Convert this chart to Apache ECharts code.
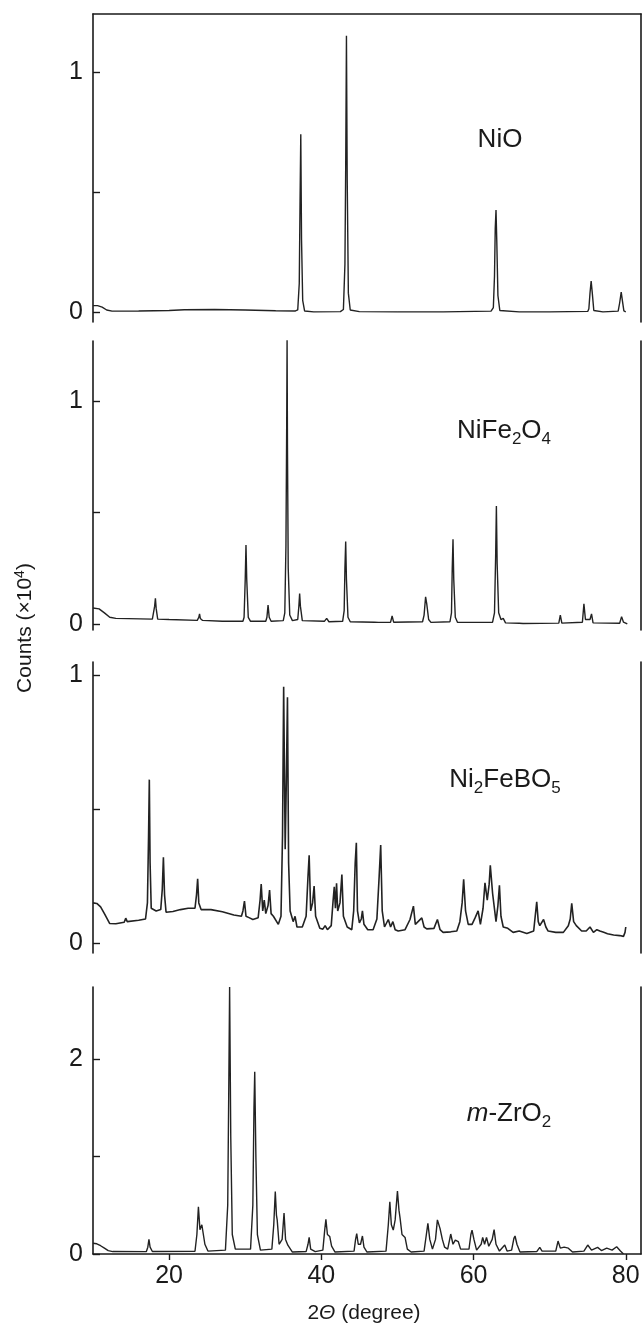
<!DOCTYPE html>
<html>
<head>
<meta charset="utf-8">
<title>XRD patterns</title>
<script src="https://cdn.jsdelivr.net/npm/echarts@6/dist/echarts.min.js"></script>
<style>
    html, body { margin: 0; padding: 0; background: #fff; }
    #xrd_chart { width: 644px; height: 1330px; }
</style>
</head>
<body>
<div id="xrd_chart"></div>
<script>
    // 2theta (degree), counts (x10^4)
    const nioData = [
        [10, 0.028], [10.6, 0.028], [11.2, 0.022], [11.8, 0.01], [12.5, 0.005], [16, 0.006], [20, 0.008],
        [22, 0.011], [26, 0.012], [30, 0.01], [34, 0.007], [36.6, 0.006],
        [36.9, 0.01], [37.1, 0.12], [37.2, 0.45], [37.3, 0.74], [37.4, 0.3], [37.55, 0.05], [37.8, 0.006],
        [39, 0.002], [42.5, 0.003],
        [42.9, 0.012], [43.1, 0.2], [43.2, 0.6], [43.3, 1.15], [43.4, 0.55], [43.55, 0.08], [43.8, 0.01],
        [45, 0.003], [50, 0.002], [56, 0.002], [62.3, 0.005],
        [62.6, 0.02], [62.75, 0.15], [62.85, 0.35], [62.95, 0.425], [63.05, 0.3], [63.2, 0.07], [63.45, 0.008],
        [66, 0.002], [70, 0.002], [75, 0.004],
        [75.15, 0.015], [75.3, 0.08], [75.45, 0.13], [75.6, 0.08], [75.8, 0.008],
        [77, 0.002], [79.0, 0.005],
        [79.2, 0.04], [79.4, 0.084], [79.55, 0.05], [79.75, 0.006], [80.0, 0.002]
    ];

    const nife2o4Data = [
        [10, 0.072], [10.8, 0.068], [11.5, 0.05], [12.2, 0.03], [13, 0.025], [17.8, 0.022],
        [17.95, 0.03], [18.1, 0.08], [18.2, 0.115], [18.3, 0.07], [18.5, 0.022],
        [20, 0.02], [23.7, 0.016], [23.9, 0.03], [24.0, 0.045], [24.1, 0.025], [24.4, 0.016],
        [27, 0.012], [29.7, 0.012],
        [29.85, 0.03], [30.0, 0.2], [30.1, 0.354], [30.2, 0.2], [30.4, 0.03], [30.7, 0.012],
        [32.7, 0.012], [32.85, 0.03], [33.0, 0.085], [33.15, 0.03], [33.4, 0.012],
        [35.0, 0.015], [35.2, 0.05], [35.35, 0.35], [35.45, 0.9], [35.5, 1.28], [35.55, 0.8], [35.65, 0.25],
        [35.85, 0.04], [36.2, 0.015],
        [36.9, 0.02], [37.05, 0.08], [37.15, 0.137], [37.25, 0.08], [37.5, 0.015],
        [40.4, 0.012], [40.7, 0.025], [41.0, 0.01],
        [42.8, 0.012], [43.0, 0.06], [43.1, 0.25], [43.2, 0.37], [43.3, 0.2], [43.5, 0.03], [43.8, 0.01],
        [47, 0.008], [47.25, 0.016], [47.5, 0.007], [49.1, 0.008], [49.3, 0.036], [49.5, 0.008],
        [53.3, 0.01], [53.5, 0.04], [53.7, 0.122], [53.85, 0.09], [54.1, 0.02], [54.4, 0.007],
        [56.9, 0.01], [57.1, 0.05], [57.2, 0.25], [57.3, 0.38], [57.4, 0.2], [57.6, 0.03], [57.9, 0.007],
        [62.5, 0.008], [62.75, 0.05], [62.9, 0.3], [63.0, 0.53], [63.1, 0.27], [63.3, 0.05], [63.6, 0.02],
        [63.9, 0.025], [64.2, 0.005],
        [66.0, 0.003], [66.2, 0.01], [66.5, 0.002],
        [71.2, 0.004], [71.4, 0.04], [71.6, 0.004],
        [74.3, 0.008], [74.5, 0.09], [74.7, 0.02], [75.3, 0.02], [75.5, 0.045], [75.7, 0.005],
        [79.2, 0.003], [79.45, 0.033], [79.7, 0.008], [80.2, 0.0]
    ];

    const ni2febo5Data = [
        [10, 0.15], [10.5, 0.148], [11, 0.135], [11.5, 0.11], [12.2, 0.073], [13, 0.072], [14.1, 0.078],
        [14.3, 0.093], [14.5, 0.08], [16, 0.085], [16.9, 0.09],
        [17.15, 0.15], [17.3, 0.4], [17.4, 0.61], [17.5, 0.3], [17.65, 0.13], [18.3, 0.12], [18.9, 0.125],
        [19.1, 0.2], [19.25, 0.32], [19.4, 0.18], [19.6, 0.115], [20.5, 0.118], [21.5, 0.125], [22.5, 0.13],
        [23.4, 0.13], [23.6, 0.18], [23.75, 0.24], [23.9, 0.15], [24.2, 0.125], [25.5, 0.125], [27, 0.117],
        [28.5, 0.105], [29.5, 0.1], [29.7, 0.12], [29.9, 0.157], [30.1, 0.1], [30.5, 0.095], [31, 0.088],
        [31.7, 0.095], [31.95, 0.16], [32.1, 0.22], [32.3, 0.12], [32.5, 0.16], [32.7, 0.11], [33.0, 0.14],
        [33.2, 0.198], [33.4, 0.11], [33.7, 0.1], [34.35, 0.07],
        [34.7, 0.1], [34.9, 0.4], [35.05, 0.957], [35.25, 0.35], [35.4, 0.6], [35.55, 0.917], [35.7, 0.3],
        [35.9, 0.12], [36.1, 0.1], [36.3, 0.08], [36.55, 0.1], [36.8, 0.06], [37.5, 0.06],
        [38.0, 0.1], [38.25, 0.25], [38.4, 0.328], [38.6, 0.12], [38.85, 0.15], [39.05, 0.213], [39.25, 0.1],
        [39.8, 0.055], [40.2, 0.052], [40.5, 0.065], [40.8, 0.05], [41.3, 0.065],
        [41.55, 0.16], [41.7, 0.21], [41.85, 0.13], [42.0, 0.223], [42.15, 0.12], [42.45, 0.15], [42.7, 0.256],
        [42.9, 0.1], [43.4, 0.06], [44.0, 0.05],
        [44.25, 0.12], [44.45, 0.3], [44.6, 0.374], [44.75, 0.12], [45.0, 0.075], [45.25, 0.09], [45.4, 0.12],
        [45.6, 0.07], [46.1, 0.05], [46.8, 0.05],
        [47.3, 0.09], [47.6, 0.25], [47.8, 0.366], [48.0, 0.12], [48.3, 0.06], [48.8, 0.088], [49.1, 0.06],
        [49.4, 0.08], [49.7, 0.05], [50.1, 0.045], [51.0, 0.05],
        [51.65, 0.088], [52.1, 0.138], [52.35, 0.07], [52.6, 0.07], [53.2, 0.094], [53.5, 0.06], [53.85, 0.053],
        [54.8, 0.055], [55.25, 0.088], [55.6, 0.05], [56.0, 0.04], [57.0, 0.042], [57.8, 0.045], [58.2, 0.08],
        [58.5, 0.15], [58.7, 0.238], [58.95, 0.12], [59.3, 0.07], [59.8, 0.07], [60.2, 0.094], [60.6, 0.12],
        [60.9, 0.07], [61.25, 0.13], [61.5, 0.225], [61.8, 0.16], [62.05, 0.22], [62.2, 0.29], [62.5, 0.186],
        [62.95, 0.08], [63.2, 0.14], [63.4, 0.216], [63.6, 0.1], [63.9, 0.06], [64.5, 0.055], [65.2, 0.04],
        [66, 0.045], [67.0, 0.036], [67.9, 0.045],
        [68.1, 0.1], [68.3, 0.154], [68.5, 0.08], [68.7, 0.065], [69.2, 0.088], [69.5, 0.06], [69.8, 0.045],
        [70.8, 0.04], [71.8, 0.04], [72.45, 0.065], [72.7, 0.09], [72.9, 0.148], [73.15, 0.08], [73.5, 0.065],
        [74.2, 0.045], [74.8, 0.045], [75.3, 0.06], [75.75, 0.04], [76.2, 0.05], [76.6, 0.045], [77.1, 0.04],
        [77.6, 0.035], [78.4, 0.03], [79.2, 0.028], [79.7, 0.025], [79.9, 0.04], [80.0, 0.06]
    ];

    const zro2Data = [
        [10, 0.11], [10.5, 0.105], [11, 0.085], [11.5, 0.06], [12, 0.034], [12.6, 0.025], [17.0, 0.024],
        [17.2, 0.07], [17.35, 0.15], [17.5, 0.07], [17.8, 0.026], [23.4, 0.028],
        [23.65, 0.2], [23.85, 0.485], [24.05, 0.25], [24.3, 0.3], [24.45, 0.32], [24.7, 0.1], [25.1, 0.03],
        [27.4, 0.04], [27.7, 0.5], [27.85, 1.8], [27.95, 2.74], [28.1, 1.2], [28.3, 0.2], [28.7, 0.05],
        [30.7, 0.05], [31.0, 0.5], [31.15, 1.5], [31.25, 1.87], [31.4, 1.0], [31.6, 0.2], [32.0, 0.04],
        [33.5, 0.05], [33.75, 0.3], [33.95, 0.64], [34.1, 0.4], [34.2, 0.35], [34.45, 0.1], [34.85, 0.15],
        [35.1, 0.42], [35.3, 0.15], [35.6, 0.09], [35.8, 0.08], [36.2, 0.02], [38.0, 0.025],
        [38.25, 0.1], [38.4, 0.17], [38.6, 0.05], [39.2, 0.025], [40.2, 0.04],
        [40.45, 0.25], [40.6, 0.355], [40.8, 0.2], [41.1, 0.18], [41.35, 0.08], [41.8, 0.02], [44.3, 0.03],
        [44.5, 0.15], [44.65, 0.21], [44.85, 0.1], [45.15, 0.1], [45.4, 0.185], [45.6, 0.07], [46.0, 0.02],
        [48.5, 0.03], [48.8, 0.3], [49.0, 0.535], [49.2, 0.3], [49.45, 0.245], [49.7, 0.35], [50.0, 0.645],
        [50.2, 0.45], [50.35, 0.365], [50.6, 0.2], [51.0, 0.17], [51.3, 0.05], [51.8, 0.02], [53.5, 0.03],
        [53.8, 0.2], [54.0, 0.315], [54.25, 0.15], [54.6, 0.05], [55.0, 0.15], [55.25, 0.35], [55.6, 0.26],
        [55.9, 0.15], [56.2, 0.07], [56.6, 0.05], [57.0, 0.205], [57.3, 0.1], [57.6, 0.143], [58.0, 0.126],
        [58.3, 0.05], [59.4, 0.05], [59.65, 0.2], [59.8, 0.245], [60.05, 0.15], [60.4, 0.04], [61.0, 0.1],
        [61.2, 0.17], [61.45, 0.1], [61.7, 0.17], [62.0, 0.08], [62.45, 0.15], [62.7, 0.25], [62.95, 0.1],
        [63.4, 0.03], [64.1, 0.092], [64.4, 0.03], [65.0, 0.04],
        [65.3, 0.16], [65.45, 0.185], [65.7, 0.1], [66.1, 0.02], [68.3, 0.025], [68.7, 0.068], [69.0, 0.03],
        [70.8, 0.03], [71.1, 0.133], [71.4, 0.06], [71.9, 0.07], [72.45, 0.06], [73.0, 0.02], [74.5, 0.03],
        [75.0, 0.092], [75.5, 0.04], [76.3, 0.068], [76.8, 0.035], [77.5, 0.06], [78.2, 0.04], [78.8, 0.075],
        [79.3, 0.03], [79.7, 0.0]
    ];

    // axis ranges and ticks for the four panels (top to bottom)
    const xRange = [10, 82];
    const xTicks = [20, 40, 60, 80];
    const yRanges = [[-0.04, 1.24], [-0.027, 1.27], [-0.037, 1.049], [0, 2.74]];
    const yTicks = [[0, 0.5, 1], [0, 0.5, 1], [0, 0.5, 1], [0, 1, 2]];
    const yLabels = [[0, 1], [0, 1], [0, 1], [0, 2]];
    const panelNames = ['NiO', 'NiFe{sub|2}O{sub|4}', 'Ni{sub|2}FeBO{sub|5}', '{it|m}-ZrO{sub|2}'];

    const font = '"Liberation Sans", Arial, sans-serif';
    const ink = '#1a1a1a';

    const grids = [
        { left: 93, right: 3, top: 14, height: 308 },
        { left: 93, right: 3, top: 341, height: 289 },
        { left: 93, right: 3, top: 662, height: 291 },
        { left: 93, right: 3, top: 987, height: 267 }
    ];
    const labelPos = [[500, 140], [504, 431], [505, 780], [509, 1114]];

    const xAxes = [];
    const yAxes = [];
    const series = [];
    const graphics = [];
    const allData = [nioData, nife2o4Data, ni2febo5Data, zro2Data];

    grids.forEach(function (g, i) {
        const isLast = i === grids.length - 1;
        xAxes.push({
            type: 'value', gridIndex: i, min: xRange[0], max: xRange[1],
            show: true,
            axisLine: { show: isLast, lineStyle: { color: ink, width: 1.6 } },
            axisTick: { show: isLast, inside: false, length: 6, customValues: xTicks, lineStyle: { color: ink, width: 1.4 } },
            axisLabel: { show: isLast, customValues: xTicks, fontSize: 25, color: ink, fontFamily: font, margin: 10 },
            splitLine: { show: false }
        });
        yAxes.push({
            type: 'value', gridIndex: i, min: yRanges[i][0], max: yRanges[i][1],
            axisLine: { show: true, onZero: false, lineStyle: { color: ink, width: 1.6 } },
            axisTick: { show: true, inside: true, length: 7, customValues: yTicks[i], lineStyle: { color: ink, width: 1.4 } },
            axisLabel: { customValues: yLabels[i], fontSize: 25, color: ink, fontFamily: font, margin: 10 },
            splitLine: { show: false }
        });
        series.push({
            type: 'line', xAxisIndex: i, yAxisIndex: i,
            data: allData[i],
            showSymbol: false, symbol: 'none', silent: true,
            lineStyle: { color: '#222', width: i === 2 ? 1.6 : 1.4 }
        });
        graphics.push({
            type: 'text', x: labelPos[i][0], y: labelPos[i][1],
            style: {
                text: panelNames[i], fill: ink, font: '26px ' + font,
                align: 'center', verticalAlign: 'middle',
                rich: {
                    sub: { fontSize: 17, fontFamily: font, padding: [16, 0, 0, 0] },
                    it: { fontSize: 26, fontFamily: font, fontStyle: 'italic' }
                }
            }
        });
    });

    // right border of every panel
    grids.forEach(function (g, i) {
        yAxes.push({
            type: 'value', gridIndex: i, position: 'right', min: yRanges[i][0], max: yRanges[i][1],
            axisLine: { show: true, onZero: false, lineStyle: { color: ink, width: 1.6 } },
            axisTick: { show: false }, axisLabel: { show: false }, splitLine: { show: false }
        });
    });

    // top border of the NiO panel
    xAxes.push({
        type: 'value', gridIndex: 0, position: 'top', min: xRange[0], max: xRange[1],
        axisLine: { show: true, onZero: false, lineStyle: { color: ink, width: 1.6 } },
        axisTick: { show: false }, axisLabel: { show: false }, splitLine: { show: false }
    });

    graphics.push({
        type: 'text', x: 25, y: 628, rotation: Math.PI / 2,
        style: {
            text: 'Counts (×10{sup|4})', fill: ink, font: '21px ' + font,
            align: 'center', verticalAlign: 'middle',
            rich: { sup: { fontSize: 14, fontFamily: font, padding: [0, 0, 10, 0] } }
        }
    });
    graphics.push({
        type: 'text', x: 364, y: 1313,
        style: {
            text: '2{it|Θ} (degree)', fill: ink, font: '21px ' + font,
            align: 'center', verticalAlign: 'middle',
            rich: { it: { fontSize: 21, fontFamily: font, fontStyle: 'italic' } }
        }
    });

    const option = {
        animation: false,
        backgroundColor: '#fff',
        grid: grids,
        xAxis: xAxes,
        yAxis: yAxes,
        series: series,
        graphic: graphics
    };

    const xrdChart = echarts.init(document.getElementById('xrd_chart'));
    xrdChart.setOption(option);

    window.addEventListener('resize', function () {
        xrdChart.resize();
    });
</script>
</body>
</html>
